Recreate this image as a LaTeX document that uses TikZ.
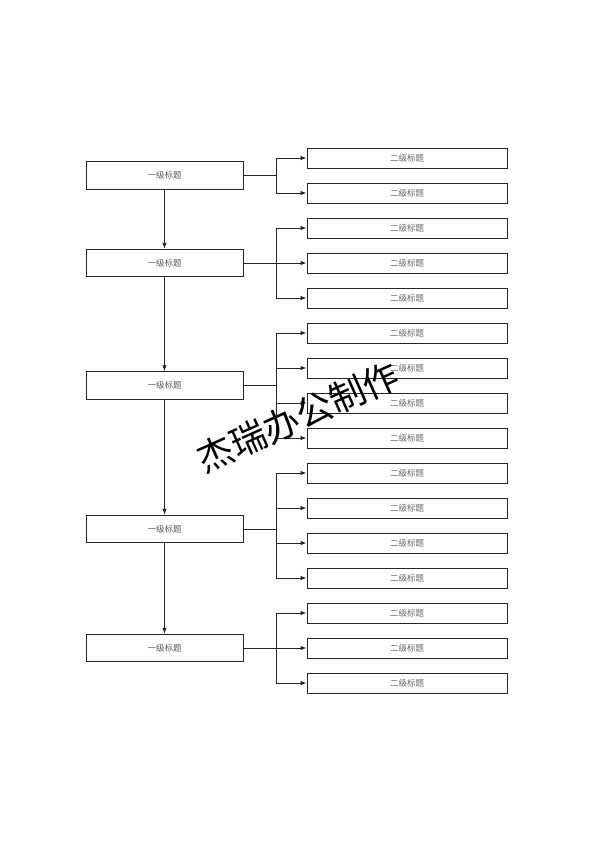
\documentclass[tikz,border=0pt]{standalone}
\usepackage{fontspec}
\newfontfamily\cjk{Noto Sans CJK SC}
\usetikzlibrary{arrows.meta}
\begin{document}
\begin{tikzpicture}[x=1pt,y=-1pt,
  lvone/.style={draw=black!85,line width=1pt,minimum width=157pt,minimum height=27.5pt,inner sep=0pt,font=\cjk\fontsize{8.5}{9}\selectfont,text=black!65},
  lvtwo/.style={draw=black!85,line width=1pt,minimum width=200pt,minimum height=20pt,inner sep=0pt,font=\cjk\fontsize{8.5}{9}\selectfont,text=black!60},
  conn/.style={draw=black!85,line width=0.9pt},
  arr/.style={conn,-{Latex[length=6pt,width=4.5pt]}}]
\useasboundingbox (0,0) rectangle (594,841);
\fill[white] (0,0) rectangle (594,841);
% level one
\node[lvone] (p1) at (164.5,175.5) {一级标题};
\node[lvone] (p2) at (164.5,263) {一级标题};
\node[lvone] (p3) at (164.5,385.5) {一级标题};
\node[lvone] (p4) at (164.5,529) {一级标题};
\node[lvone] (p5) at (164.5,648) {一级标题};
% level two
\foreach \i/\y in {1/158,2/193,3/228,4/263,5/298,6/333,7/368,8/403,9/438,10/473,11/508,12/543,13/578,14/613,15/648,16/683}
  \node[lvtwo] (c\i) at (407,\y) {二级标题};
% vertical arrows between level one
\draw[arr] (p1) -- (p2);
\draw[arr] (p2) -- (p3);
\draw[arr] (p3) -- (p4);
\draw[arr] (p4) -- (p5);
% branch coordinates
\coordinate (b1) at (276,175.5);
\coordinate (b2) at (276,263);
\coordinate (b3) at (276,385.5);
\coordinate (b4) at (276,529);
\coordinate (b5) at (276,648);
\draw[conn] (p1.east) -- (b1);
\draw[conn] (p2.east) -- (b2);
\draw[conn] (p3.east) -- (b3);
\draw[conn] (p4.east) -- (b4);
\draw[conn] (p5.east) -- (b5);
\foreach \b/\list in {b1/{1,2},b2/{3,4,5},b3/{6,7,8,9},b4/{10,11,12,13},b5/{14,15,16}}
  \foreach \c in \list
    \draw[arr] (\b) |- (c\c.west);
% watermark
\node[font=\cjk\fontsize{36}{40}\selectfont,rotate=24,inner sep=0pt] (wm) at (298,417) {杰瑞办公制作};
\end{tikzpicture}
\end{document}
